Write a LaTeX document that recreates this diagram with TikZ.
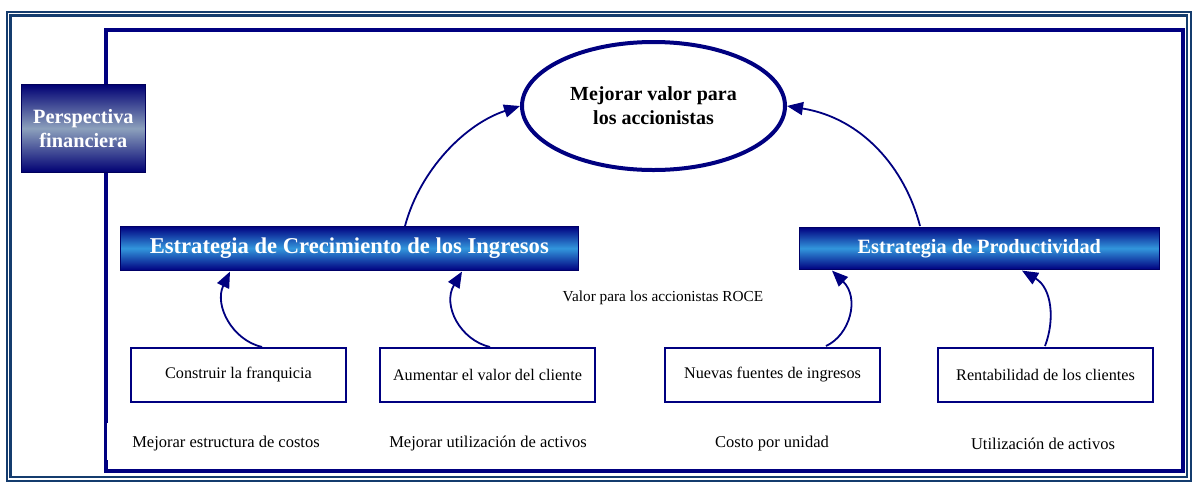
\documentclass[tikz,border=0pt]{standalone}
\usepackage{fontspec}
\setmainfont{Liberation Serif}
\usetikzlibrary{shapes.geometric,arrows.meta,calc}
\definecolor{navy}{RGB}{0,0,128}
\definecolor{framec}{RGB}{20,60,110}
\definecolor{midblue}{RGB}{50,150,220}
\definecolor{midgray}{RGB}{140,160,188}
\tikzset{
  stratbox/.style={draw=navy!80!black,line width=0.6pt,top color=navy,bottom color=navy,middle color=midblue,
    text=white,font=\fontsize{22.6}{24}\selectfont\bfseries,inner sep=0pt,anchor=north west},
  itembox/.style={draw=navy,line width=2pt,fill=white,minimum width=215,minimum height=54,inner sep=0pt,
    font=\fontsize{16.2}{18}\selectfont,anchor=north west},
  plain/.style={font=\fontsize{16.5}{18}\selectfont,inner sep=0pt},
  arr/.style={draw=navy,line width=1.8pt,-{Triangle[length=16pt,width=13pt]}},
}
\begin{document}
\begin{tikzpicture}[x=1pt,y=-1pt]
\useasboundingbox (0,0) rectangle (1193,483);
% outer double frame
\draw[framec,line width=1.2pt] (7,12) rectangle (1191,481);
\draw[framec,line width=2.6pt] (10.5,15.5) rectangle (1187,477);
% inner navy frame
\draw[navy,line width=4pt] (106,30) rectangle (1183,471);
\fill[white] (107.3,423) rectangle (112,460);
% perspectiva box
\node[draw=navy!70!black,line width=0.8pt,top color=navy!90!black,bottom color=navy!90!black,middle color=midgray,
  minimum width=124,minimum height=88,inner sep=0pt,anchor=north west,text=white,align=center,
  font=\fontsize{20.3}{23.5}\selectfont\bfseries] (persp) at (21,84) {Perspectiva\\financiera};
% ellipse
\node[ellipse,draw=navy,line width=4pt,fill=white,minimum width=263,minimum height=128,inner sep=0pt,align=center,
  font=\fontsize{20}{24}\selectfont\bfseries] (ell) at (653.5,106) {Mejorar valor para\\los accionistas};
% strategy boxes
\node[stratbox,minimum width=458,minimum height=44] (strL) at (120,226) {Estrategia de Crecimiento de los Ingresos};
\node[stratbox,minimum width=360,minimum height=42,font=\fontsize{20.3}{22}\selectfont\bfseries] (strR) at (799,227) {Estrategia de Productividad};
% item boxes
\node[itembox] (b1) at (130,347) {Construir la franquicia};
\node[itembox] (b2) at (379,347) {Aumentar el valor del cliente};
\node[itembox] (b3) at (664,347) {Nuevas fuentes de ingresos};
\node[itembox] (b4) at (937,347) {Rentabilidad de los clientes};
% labels
\node[plain,font=\fontsize{15.3}{17}\selectfont] (roce) at (663,298) {Valor para los accionistas ROCE};
\node[plain] (l1) at (226,444) {Mejorar estructura de costos};
\node[plain] (l2) at (488,444) {Mejorar utilización de activos};
\node[plain] (l3) at (772,444) {Costo por unidad};
\node[plain] (l4) at (1043,444) {Utilización de activos};
% big arrows
\coordinate (sL) at ($(strL.north west)+(285,0)$);
\coordinate (sR) at ($(strR.north west)+(121,-1)$);
\draw[arr] (sL) .. controls (420,170) and (465,124) .. (ell.west);
\draw[arr] (sR) .. controls (905,168) and (862,118) .. (ell.east);
% small arrows
\coordinate (t1) at ($(strL.south west)+(110,1)$);
\coordinate (t2) at ($(strL.south west)+(342,1)$);
\coordinate (t3) at ($(strR.south west)+(33,1)$);
\coordinate (t4) at ($(strR.south west)+(223,1)$);
\draw[arr] ($(b1.north west)+(132,0)$) .. controls (232,340) and (214,305) .. (t1);
\draw[arr] ($(b2.north west)+(111,0)$) .. controls (460,340) and (442,305) .. (t2);
\draw[arr] ($(b3.north west)+(162,-1)$) .. controls (850,335) and (860,298) .. (t3);
\draw[arr] ($(b4.north west)+(108,-1)$) .. controls (1055,320) and (1052,288) .. (t4);
\end{tikzpicture}
\end{document}
